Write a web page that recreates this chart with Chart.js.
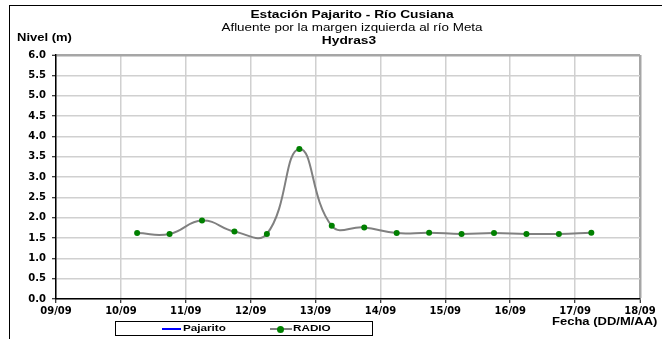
<!DOCTYPE html>
<html>
<head>
<meta charset="utf-8">
<script src="https://cdn.jsdelivr.net/npm/chart.js@4.4.1/dist/chart.umd.min.js"></script>
<style>
  html, body { margin: 0; padding: 0; background: #fff; }
  #wrap { position: relative; width: 662px; height: 339px; font-family: "Liberation Sans", Arial, sans-serif; color: #000; }
  #frame { position: absolute; left: 9px; top: 5px; right: -2px; bottom: -2px; border-left: 1.5px solid #000; border-top: 1.5px solid #000; }
  .t { position: absolute; white-space: nowrap; font-size: 11px; line-height: 12px; }
  .c { transform: translateX(-50%) scaleX(1.25); }
  .l { transform-origin: left center; transform: scaleX(1.3); }
  .b { font-weight: bold; }
  #legend { position: absolute; left: 115px; top: 321px; width: 258px; height: 15px; border: 1px solid #000; box-sizing: border-box; font-size: 9px; font-weight: bold; }
  #legend span { position: absolute; top: 1px; line-height: 11px; transform-origin: left center; transform: scaleX(1.3); }
  .ln { position: absolute; top: 6px; height: 2px; }
</style>
</head>
<body>
<div id="wrap">
  <canvas id="grafica" width="662" height="339"></canvas>
  <div id="frame"></div>
  <div class="t b c" style="left:352px;top:8px;">Estación Pajarito - Río Cusiana</div>
  <div class="t c" style="left:352px;top:21px;transform:translateX(-50%) scaleX(1.22);">Afluente por la margen izquierda al río Meta</div>
  <div class="t b c" style="left:349px;top:34px;">Hydras3</div>
  <div class="t b l" style="left:17px;top:32px;font-size:10px;">Nivel (m)</div>
  <div class="t b l" style="left:552px;top:316px;font-size:10px;">Fecha (DD/M/AA)</div>
  <div id="legend">
    <div class="ln" style="left:46px;width:19px;background:#0000ff;"></div>
    <span style="left:67px;">Pajarito</span>
    <div class="ln" style="left:154px;width:22px;background:#808080;"></div>
    <div style="position:absolute;left:161px;top:3.5px;width:7px;height:7px;border-radius:50%;background:#008000;"></div>
    <span style="left:177px;">RADIO</span>
  </div>
</div>
<script>
// etiquetas del eje X (dias)
const etiquetasFecha = ['09/09', '10/09', '11/09', '12/09', '13/09', '14/09', '15/09', '16/09', '17/09', '18/09'];
// momento de cada lectura, en dias desde 09/09 00:00
const diasLectura = [1.25, 1.75, 2.25, 2.75, 3.25, 3.75, 4.25, 4.75, 5.25, 5.75, 6.25, 6.75, 7.25, 7.75, 8.25];
// nivel RADIO (m)
const nivelRadio = [1.62, 1.60, 1.93, 1.66, 1.60, 3.69, 1.80, 1.76, 1.62, 1.63, 1.60, 1.62, 1.60, 1.60, 1.63];
// nivel Pajarito (sin datos)
const nivelPajarito = [];
const nivelTicks = ['0.0', '0.5', '1.0', '1.5', '2.0', '2.5', '3.0', '3.5', '4.0', '4.5', '5.0', '5.5', '6.0'];

const puntosRadio = diasLectura.map((d, i) => ({ x: d, y: nivelRadio[i] }));

const fuenteEje = { family: '"DejaVu Sans", sans-serif', size: 10, weight: 'bold' };

const ctx = document.getElementById('grafica').getContext('2d');
new Chart(ctx, {
  type: 'line',
  data: {
    datasets: [{
      label: 'Pajarito',
      data: nivelPajarito,
      borderColor: '#0000ff',
      borderWidth: 2,
      pointRadius: 0
    }, {
      label: 'RADIO',
      data: puntosRadio,
      borderColor: '#808080',
      borderWidth: 2,
      tension: 0.45,
      pointRadius: 3,
      pointBackgroundColor: '#008000',
      pointBorderColor: '#008000',
      pointBorderWidth: 0
    }]
  },
  options: {
    responsive: false,
    animation: false,
    layout: { padding: { left: 0, right: 22, top: 55, bottom: 0 } },
    plugins: { legend: { display: false }, title: { display: false }, tooltip: { enabled: false } },
    scales: {
      x: {
        type: 'linear',
        min: 0,
        max: 9,
        afterFit: s => { s.height = 40; },
        ticks: {
          stepSize: 1,
          autoSkip: false,
          maxRotation: 0,
          padding: 2,
          color: '#000',
          font: fuenteEje,
          callback: (v, i) => etiquetasFecha[i]
        },
        grid: {
          color: c => c.index === 9 ? '#a6a6a6' : '#d0d0d0',
          lineWidth: c => c.index === 9 ? 2.5 : 1.5,
          tickColor: '#000',
          tickLength: 4,
          tickWidth: 1
        },
        border: { color: '#000', width: 1.5 }
      },
      y: {
        min: 0,
        max: 6,
        afterFit: s => { s.width = 56; },
        ticks: {
          stepSize: 0.5,
          padding: 6,
          color: '#000',
          font: fuenteEje,
          callback: (v, i) => nivelTicks[i]
        },
        grid: {
          color: c => c.index === 12 ? '#a6a6a6' : '#d0d0d0',
          lineWidth: c => c.index === 12 ? 2.5 : 1.5,
          tickColor: '#000',
          tickLength: 4,
          tickWidth: 1
        },
        border: { color: '#000', width: 1.5 }
      }
    }
  }
});
</script>
</body>
</html>
